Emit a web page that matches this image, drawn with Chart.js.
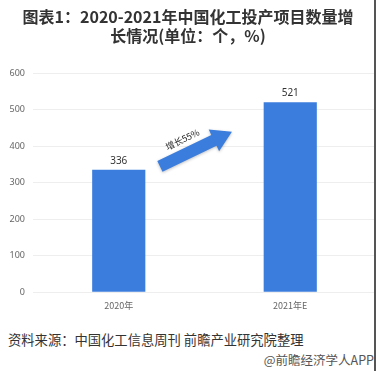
<!DOCTYPE html>
<html>
<head>
<meta charset="utf-8">
<script src="https://cdn.jsdelivr.net/npm/chart.js@4"></script>
<style>
  html, body { margin: 0; padding: 0; background: #fff; }
  body { width: 376px; height: 371px; position: relative; overflow: hidden; font-family: "Noto Sans CJK SC", "Noto Sans", sans-serif; }
  #wrap { position: absolute; left: 0; top: 0; width: 376px; height: 319px; }
  #source { position: absolute; left: 8px; top: 330px; font-size: 13.3px; color: #333; white-space: nowrap; }
  #brand { position: absolute; right: 2px; top: 350px; font-size: 12.5px; color: #555; white-space: nowrap; }
  #edge { position: absolute; right: 0; top: 0; width: 2px; height: 371px; background: #555; }
</style>
</head>
<body>
<div id="wrap"><canvas id="chart"></canvas></div>
<div id="source">资料来源：中国化工信息周刊 前瞻产业研究院整理</div>
<div id="brand">@前瞻经济学人APP</div>
<div id="edge"></div>
<script>
const titleLines = ['图表1：2020-2021年中国化工投产项目数量增', '长情况(单位：个，%)'];
const categories = ['2020年', '2021年E'];
const projectCounts = [336, 521];
const yTicks = [0, 100, 200, 300, 400, 500, 600];
const growthText = '增长55%';
// arrow ends in data terms: [category index, value]
const arrowFrom = [0.24, 345];
const arrowTo = [0.66, 440];

const barBlue = '#3b7ddd';

const valueLabels = {
    id: 'valueLabels',
    afterDatasetsDraw(chart) {
        const ctx = chart.ctx;
        const meta = chart.getDatasetMeta(0);
        ctx.save();
        ctx.font = '10px "Noto Sans", sans-serif';
        ctx.fillStyle = '#333';
        ctx.textAlign = 'center';
        ctx.textBaseline = 'bottom';
        meta.data.forEach((bar, i) => {
            ctx.fillText(projectCounts[i], bar.x, bar.y - 4);
        });
        ctx.restore();
    }
};

const growthArrow = {
    id: 'growthArrow',
    afterDatasetsDraw(chart) {
        const ctx = chart.ctx;
        const xs = chart.scales.x, ys = chart.scales.y;
        const x1 = xs.getPixelForValue(arrowFrom[0]), y1 = ys.getPixelForValue(arrowFrom[1]);
        const x2 = xs.getPixelForValue(arrowTo[0]), y2 = ys.getPixelForValue(arrowTo[1]);
        const ang = Math.atan2(y2 - y1, x2 - x1);
        const len = Math.hypot(x2 - x1, y2 - y1);
        const headLen = 20, bodyHalf = 6, headHalf = 12;
        ctx.save();
        ctx.translate(x1, y1);
        ctx.rotate(ang);
        ctx.shadowColor = 'rgba(0,0,0,0.25)';
        ctx.shadowBlur = 3;
        ctx.shadowOffsetY = 1;
        ctx.fillStyle = barBlue;
        ctx.beginPath();
        ctx.moveTo(0, -bodyHalf);
        ctx.lineTo(len - headLen, -bodyHalf);
        ctx.lineTo(len - headLen, -headHalf);
        ctx.lineTo(len, 0);
        ctx.lineTo(len - headLen, headHalf);
        ctx.lineTo(len - headLen, bodyHalf);
        ctx.lineTo(0, bodyHalf);
        ctx.closePath();
        ctx.fill();
        ctx.shadowColor = 'transparent';
        ctx.font = '9px "Noto Sans CJK SC", sans-serif';
        ctx.fillStyle = '#222';
        ctx.textAlign = 'center';
        ctx.textBaseline = 'bottom';
        ctx.fillText(growthText, len * 0.4, -bodyHalf - 4);
        ctx.restore();
    }
};

new Chart(document.getElementById('chart').getContext('2d'), {
    type: 'bar',
    data: {
        labels: categories,
        datasets: [{
            data: projectCounts,
            backgroundColor: barBlue,
            borderWidth: 0,
            categoryPercentage: 0.31,
            barPercentage: 1
        }]
    },
    options: {
        responsive: true,
        maintainAspectRatio: false,
        animation: false,
        layout: { padding: { left: 0, right: 0, top: 7, bottom: 0 } },
        plugins: {
            legend: { display: false },
            tooltip: { enabled: false },
            title: {
                display: true,
                text: titleLines,
                color: '#333',
                font: { family: '"Noto Sans CJK SC", sans-serif', size: 16, weight: 'bold', lineHeight: 1.2 },
                padding: { top: 0, bottom: 28 }
            }
        },
        scales: {
            x: {
                grid: { display: false, drawTicks: false },
                border: { display: false },
                ticks: { color: '#666', font: { size: 9, family: '"Noto Sans CJK SC", sans-serif' }, padding: 8 }
            },
            y: {
                min: 0,
                max: 600,
                afterBuildTicks: s => { s.ticks = yTicks.map(v => ({ value: v })); },
                afterFit: s => { s.width = 33; },
                grid: { color: '#eeeeee', drawTicks: false },
                border: { display: false },
                ticks: { color: '#666', font: { size: 9, family: '"Noto Sans", sans-serif' }, padding: 8 }
            }
        }
    },
    plugins: [valueLabels, growthArrow]
});
</script>
</body>
</html>
